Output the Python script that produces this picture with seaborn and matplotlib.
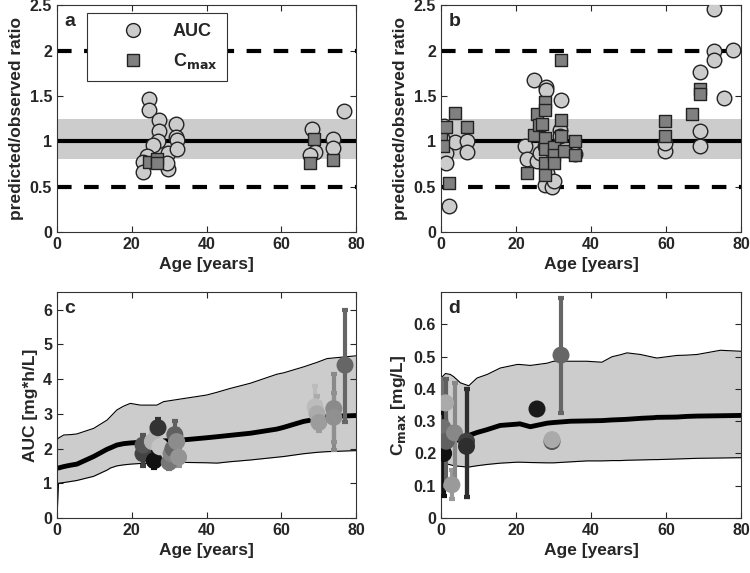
import matplotlib
matplotlib.use("Agg")
import matplotlib.pyplot as plt
import numpy as np
import seaborn as sns
from matplotlib.lines import Line2D

sns.set_style("ticks")
plt.rcParams['font.family'] = ['Liberation Sans', 'DejaVu Sans']
plt.rcParams['font.weight'] = 'bold'
plt.rcParams['axes.labelweight'] = 'bold'

# ---- panel a : predicted/observed ratios, adults
a_auc_age = [24.7, 24.7, 27.3, 27.2, 26.9, 25.7, 24.1, 22.9, 22.9, 29.8, 29.8, 31.8, 31.8, 32.1, 32.1, 29.4,
             68.2, 69.0, 67.7, 73.8, 73.8, 76.8]
a_auc_ratio = [1.47, 1.34, 1.24, 1.11, 1.00, 0.96, 0.84, 0.77, 0.66, 0.87, 0.70, 1.19, 1.05, 1.01, 0.92, 0.76,
               1.14, 0.88, 0.85, 1.02, 0.93, 1.33]
a_cmax_age = [24.5, 26.7, 26.7, 68.6, 67.7, 73.9]
a_cmax_ratio = [0.77, 0.80, 0.76, 1.03, 0.76, 0.79]

# ---- panel b : predicted/observed ratios, all ages
b_auc_age = [0.7, 1.2, 1.4, 2.0, 3.8, 6.9, 6.9, 0.2, 24.9, 28.0, 28.0, 32.0, 22.5, 23.0, 25.6, 26.5, 27.8,
             28.3, 28.3, 27.8, 29.6, 30.0, 31.8, 31.8, 35.8, 59.8, 59.8, 69.0, 69.0, 69.0, 72.7, 72.9, 72.7,
             75.4, 77.9]
b_auc_ratio = [1.17, 0.87, 0.76, 0.29, 0.99, 1.00, 0.88, 1.04, 1.67, 1.60, 1.57, 1.46, 0.95, 0.80, 0.78,
               0.87, 0.95, 0.65, 0.56, 0.52, 0.50, 0.56, 1.13, 1.06, 0.86, 0.89, 0.98, 1.76, 1.11, 0.95,
               2.46, 1.99, 1.90, 1.48, 2.01]
b_cmax_age = [0.0, 0.5, 1.4, 2.0, 3.6, 6.8, 23.0, 24.7, 25.6, 26.0, 26.9, 27.8, 27.8, 27.8, 27.8, 27.8, 27.8,
              30.0, 30.0, 30.0, 32.0, 32.0, 32.0, 32.9, 35.8, 35.8, 59.8, 59.8, 66.9, 69.0, 69.0]
b_cmax_ratio = [1.06, 0.95, 1.16, 0.54, 1.31, 1.16, 0.65, 1.07, 1.30, 1.18, 1.19, 1.43, 1.35, 1.04, 0.91,
                0.76, 0.63, 0.94, 0.85, 0.76, 1.90, 1.24, 1.06, 0.89, 1.00, 0.85, 1.22, 1.06, 1.30, 1.58,
                1.52]

# ---- panel c : AUC vs age, simulated band + observed
c_sim_age = [0, 0.4, 1.8, 3.6, 5.3, 9.8, 13.4, 14.3, 16, 17.8, 19.6, 22.3, 25, 26.7, 28.5, 33.9, 40, 42.8,
             46.3, 51.7, 58.8, 60.6, 65.9, 69.5, 72.2, 80]
c_median = [1.44, 1.44, 1.48, 1.52, 1.55, 1.77, 1.98, 2.02, 2.10, 2.14, 2.16, 2.18, 2.20, 2.21, 2.22, 2.25,
            2.31, 2.34, 2.38, 2.44, 2.56, 2.61, 2.78, 2.85, 2.92, 2.95]
c_upper = [2.25, 2.30, 2.39, 2.40, 2.42, 2.58, 2.82, 2.92, 3.11, 3.22, 3.30, 3.25, 3.25, 3.25, 3.35, 3.44,
           3.54, 3.62, 3.73, 3.88, 4.14, 4.18, 4.35, 4.48, 4.59, 4.67]
c_lower = [0.0, 1.0, 1.02, 1.05, 1.08, 1.20, 1.38, 1.44, 1.50, 1.53, 1.55, 1.57, 1.58, 1.59, 1.59, 1.60,
           1.59, 1.58, 1.62, 1.67, 1.75, 1.77, 1.85, 1.89, 1.91, 1.94]
c_obs_age = [23.0, 23.0, 25.5, 26.0, 27.0, 27.5, 30.0, 30.5, 31.0, 31.5, 32.0, 32.5, 69.0, 69.5, 70.0, 74.0,
             74.0, 77.0]
c_obs_auc = [1.85, 2.10, 2.20, 1.65, 2.60, 2.05, 1.60, 1.85, 2.00, 2.40, 2.20, 1.75, 3.20, 3.00, 2.75, 3.15,
             2.90, 4.40]
c_obs_lo = [1.50, 1.70, 1.90, 1.45, 2.30, 1.80, 1.40, 1.55, 1.70, 2.05, 1.90, 1.50, 2.70, 2.60, 2.50, 1.96,
            2.20, 2.76]
c_obs_hi = [2.35, 2.40, 2.50, 1.90, 2.85, 2.30, 1.90, 2.20, 2.40, 2.80, 2.55, 2.05, 3.80, 3.50, 3.30, 4.16,
            3.60, 5.98]
c_obs_col = ['#444444', '#555555', '#b4b4b4', '#111111', '#333333', '#c4c4c4', '#777777', '#868686',
             '#666666', '#606060', '#8c8c8c', '#949494', '#bcbcbc', '#ababab', '#9c9c9c', '#8a8a8a',
             '#909090', '#666666']

# ---- panel d : Cmax vs age
d_sim_age = [0, 1.2, 2.5, 3.4, 5.2, 6.9, 7.4, 9.6, 12.3, 15.8, 20.3, 21, 23.8, 28.3, 30, 34.5, 38.9, 42.9,
             45.6, 47.8, 49.6, 53.2, 56.7, 57.6, 62.9, 65.6, 68.3, 74.5, 80]
d_median = [0.220, 0.228, 0.234, 0.238, 0.246, 0.253, 0.256, 0.265, 0.274, 0.287, 0.291, 0.292, 0.283,
            0.294, 0.296, 0.300, 0.301, 0.302, 0.304, 0.305, 0.306, 0.309, 0.311, 0.312, 0.313, 0.315,
            0.316, 0.317, 0.318]
d_upper = [0.434, 0.448, 0.445, 0.438, 0.419, 0.412, 0.410, 0.434, 0.445, 0.465, 0.476, 0.476, 0.473,
           0.480, 0.486, 0.486, 0.486, 0.483, 0.500, 0.506, 0.512, 0.507, 0.498, 0.496, 0.504, 0.505,
           0.507, 0.520, 0.517]
d_lower = [0.171, 0.168, 0.165, 0.162, 0.160, 0.158, 0.158, 0.162, 0.166, 0.170, 0.173, 0.173, 0.172,
           0.171, 0.171, 0.174, 0.177, 0.177, 0.178, 0.178, 0.179, 0.180, 0.181, 0.181, 0.183, 0.184,
           0.185, 0.186, 0.187]
d_obs_age = [0.0, 0.5, 1.2, 0.7, 1.4, 2.9, 3.6, 6.8, 6.8, 25.6, 29.6, 29.6, 32.0]
d_obs_cmax = [0.222, 0.280, 0.357, 0.200, 0.238, 0.103, 0.264, 0.238, 0.222, 0.338, 0.237, 0.243, 0.505]
d_obs_lo = [0.222, 0.200, 0.300, 0.067, 0.100, 0.060, 0.110, 0.065, 0.065, 0.338, 0.237, 0.243, 0.326]
d_obs_hi = [0.222, 0.430, 0.430, 0.326, 0.430, 0.150, 0.420, 0.400, 0.400, 0.338, 0.237, 0.243, 0.683]
d_obs_col = ['#333333', '#707070', '#aaaaaa', '#111111', '#606060', '#9a9a9a', '#888888', '#404040',
             '#2e2e2e', '#1a1a1a', '#555555', '#aaaaaa', '#666666']

AUC_FACE = '#cccccc'
CMAX_FACE = '#808080'
EDGE = '#222222'
BAND = '#cccccc'

fig = plt.figure(figsize=(7.5, 5.73), dpi=100)
ax_a = fig.add_axes([0.076, 0.595, 0.399, 0.396])
ax_b = fig.add_axes([0.588, 0.595, 0.400, 0.396])
ax_c = fig.add_axes([0.076, 0.096, 0.399, 0.394])
ax_d = fig.add_axes([0.588, 0.096, 0.400, 0.394])


def ratio_panel(ax, auc_x, auc_y, cmax_x, cmax_y):
    ax.axhspan(0.8, 1.25, color=BAND, lw=0, zorder=0)
    ax.axhline(1, color='black', lw=3, zorder=1)
    for yv in (0.5, 2):
        ax.axhline(yv, color='black', lw=3, ls=(0, (3.5, 3)), zorder=1)
    sns.scatterplot(x=auc_x, y=auc_y, ax=ax, marker='o', s=110, color=AUC_FACE,
                    edgecolor=EDGE, linewidth=1, zorder=3)
    sns.scatterplot(x=cmax_x, y=cmax_y, ax=ax, marker='s', s=80, color=CMAX_FACE,
                    edgecolor=EDGE, linewidth=1, zorder=4)
    ax.set_ylim(0, 2.5)
    ax.set_yticks([0, 0.5, 1, 1.5, 2, 2.5])
    ax.set_yticklabels(['0', '0.5', '1', '1.5', '2', '2.5'])
    ax.set_ylabel('predicted/observed ratio', fontsize=12.5)


def profile_panel(ax, sx, med, lo, hi, ox, oy, olo, ohi, ocol):
    ax.fill_between(sx, lo, hi, color=BAND, lw=0, zorder=0)
    sns.lineplot(x=sx, y=hi, ax=ax, color='black', lw=0.8, zorder=1)
    sns.lineplot(x=sx, y=lo, ax=ax, color='black', lw=0.8, zorder=1)
    sns.lineplot(x=sx[1:], y=med[1:], ax=ax, color='black', lw=3.5, zorder=2)
    for x, y, l, h, c in zip(ox, oy, olo, ohi, ocol):
        ax.errorbar(x, y, yerr=[[y - l], [h - y]], fmt='none', ecolor=c, elinewidth=3,
                    capsize=2, capthick=3, zorder=3)
    sns.scatterplot(x=ox, y=oy, ax=ax, hue=list(range(len(ox))), palette=ocol, s=150,
                    linewidth=0, legend=False, zorder=4)


ratio_panel(ax_a, a_auc_age, a_auc_ratio, a_cmax_age, a_cmax_ratio)
ratio_panel(ax_b, b_auc_age, b_auc_ratio, b_cmax_age, b_cmax_ratio)

profile_panel(ax_c, c_sim_age, c_median, c_lower, c_upper, c_obs_age, c_obs_auc, c_obs_lo, c_obs_hi,
              c_obs_col)
ax_c.set_ylim(0, 6.5)
ax_c.set_yticks(range(0, 7))
ax_c.set_ylabel('AUC [mg*h/L]', fontsize=12.5)

profile_panel(ax_d, d_sim_age, d_median, d_lower, d_upper, d_obs_age, d_obs_cmax, d_obs_lo, d_obs_hi,
              d_obs_col)
ax_d.set_ylim(0, 0.7)
ax_d.set_yticks([0, 0.1, 0.2, 0.3, 0.4, 0.5, 0.6])
ax_d.set_yticklabels(['0', '0.1', '0.2', '0.3', '0.4', '0.5', '0.6'])
ax_d.set_ylabel('C$_{\\mathbf{max}}$ [mg/L]', fontsize=12.5)

for ax, lab in zip([ax_a, ax_b, ax_c, ax_d], ['a', 'b', 'c', 'd']):
    ax.set_xlim(0, 80)
    ax.set_xticks([0, 20, 40, 60, 80])
    ax.set_xlabel('Age [years]', fontsize=12.5)
    ax.tick_params(direction='in', top=True, right=True, labelsize=11.5, length=4, width=0.8)
    for sp in ax.spines.values():
        sp.set_visible(True)
        sp.set_linewidth(0.8)
        sp.set_color('#333333')
    ax.text(0.025, 0.965, lab, transform=ax.transAxes, fontsize=14, fontweight='bold',
            va='top', ha='left')

handles = [Line2D([], [], marker='o', ls='none', markersize=10, markerfacecolor=AUC_FACE,
                  markeredgecolor=EDGE),
           Line2D([], [], marker='s', ls='none', markersize=8, markerfacecolor=CMAX_FACE,
                  markeredgecolor=EDGE)]
leg = ax_a.legend(handles, ['AUC', 'C$_{\\mathbf{max}}$'], loc='upper left', bbox_to_anchor=(0.1, 0.965),
                  prop={'weight': 'bold', 'size': 13}, frameon=True, fancybox=False,
                  edgecolor='#333333', framealpha=1, handletextpad=0.2, borderpad=0.55,
                  labelspacing=0.6, borderaxespad=0, handlelength=4.0)
leg.get_frame().set_linewidth(0.8)

fig.savefig('out.png', dpi=100)
